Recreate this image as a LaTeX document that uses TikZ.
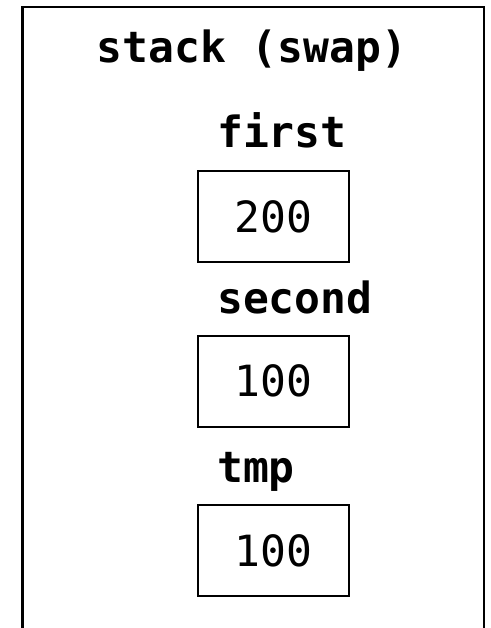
\documentclass[tikz,border=0pt]{standalone}
\usepackage{fontspec}
\newfontfamily\codefont{DejaVu Sans Mono}
\begin{document}
\begin{tikzpicture}[x=1pt,y=-1pt,
  valbox/.style={draw, line width=2pt, minimum width=151pt, minimum height=91pt, inner sep=0pt,
    font=\codefont\fontsize{43}{50}\selectfont},
  varname/.style={anchor=base west, inner sep=0pt,
    font=\codefont\bfseries\fontsize{43}{50}\selectfont},
  titletext/.style={anchor=base, inner sep=0pt,
    font=\codefont\bfseries\fontsize{43}{50}\selectfont}]
\useasboundingbox (0,0) rectangle (490,628);
\fill[white] (0,0) rectangle (490,628);
\draw[line width=2.5pt] (22.5,628) -- (22.5,7) -- (484,7) -- (484,628);
\node[titletext] (title) at (252,63) {stack (swap)};
\node[varname] (lfirst) at (217,148) {first};
\node[valbox] (vfirst) at (273.5,216.5) {200};
\node[varname] (lsecond) at (217,313) {second};
\node[valbox] (vsecond) at (273.5,381) {100};
\node[varname] (ltmp) at (217,482) {tmp};
\node[valbox] (vtmp) at (273.5,550.5) {100};
\end{tikzpicture}
\end{document}
